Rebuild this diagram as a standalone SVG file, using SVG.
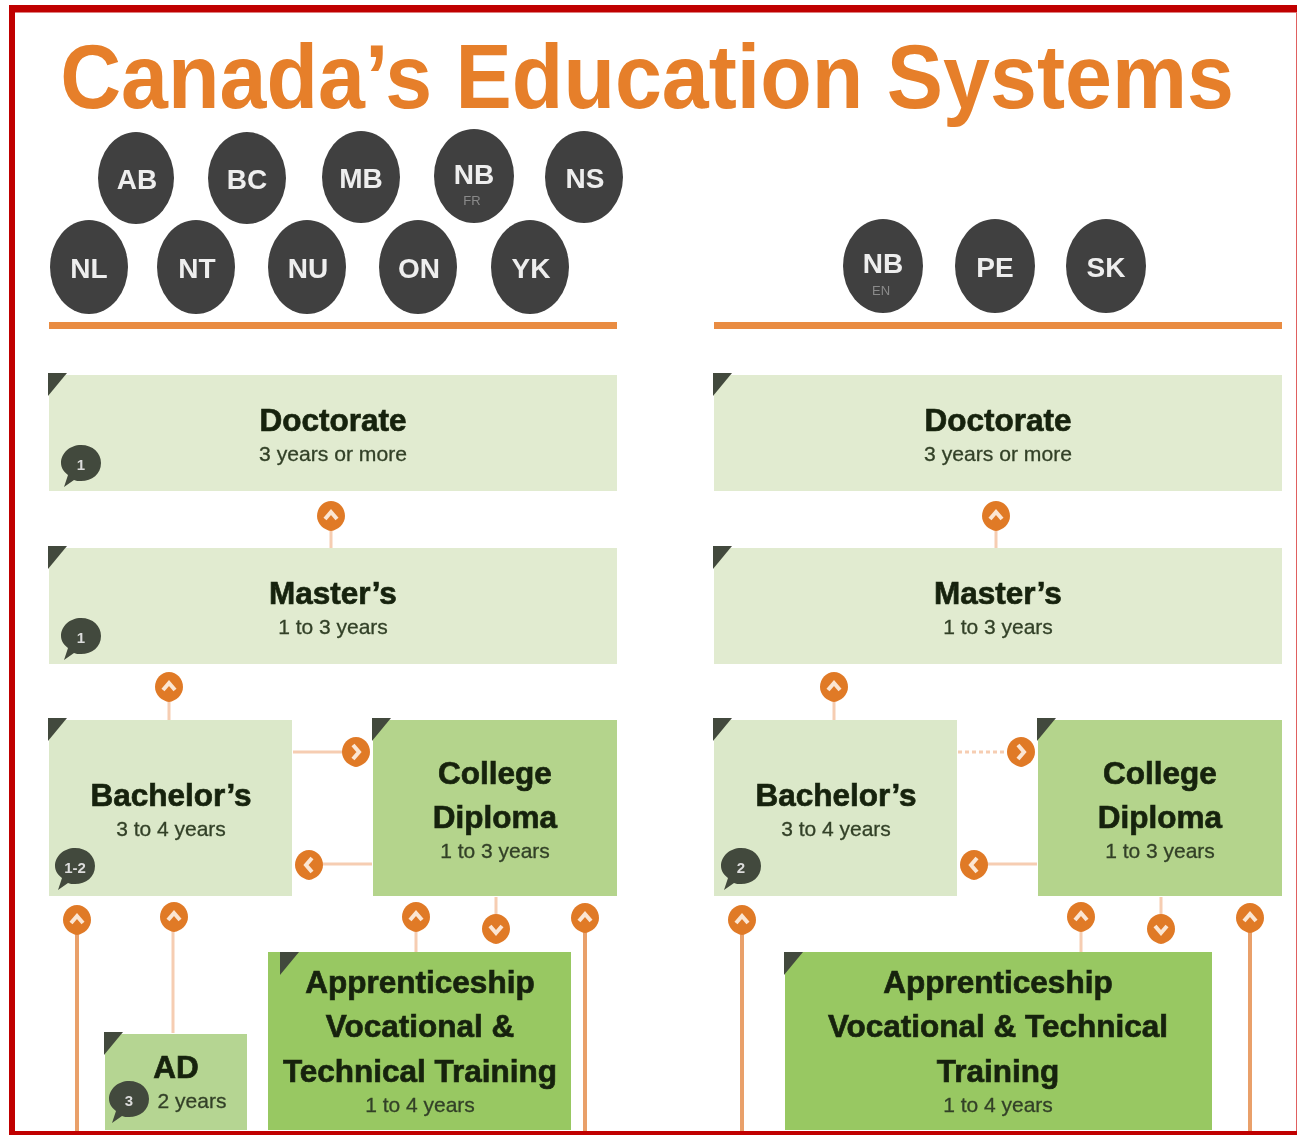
<svg xmlns="http://www.w3.org/2000/svg" width="1297" height="1135" viewBox="0 0 1297 1135">
<style>
text{font-family:"Liberation Sans",Arial,sans-serif;text-anchor:middle}
.title{font-size:90px;font-weight:bold;fill:#e67f2a}
.prov ellipse{fill:#404040}
.pt{font-size:28px;font-weight:bold;fill:#eeeeee}
.ps{font-size:13px;fill:#8a8a8a}
.h{font-size:31.500px;font-weight:bold;fill:#18240f;stroke:#18240f;stroke-width:.7px}
.s{font-size:21px;fill:#334128;stroke:#334128;stroke-width:.3px}
.rule{fill:#e98c43}
.g1{fill:#e1ebd0}.g2{fill:#dbe8c9}.g3{fill:#b4d48c}.g4{fill:#98c862}.g5{fill:#b5d592}
.c{fill:#434a3c}
.bt{font-size:15px;font-weight:bold;fill:#dcdcdc}
.l1{stroke:#e9a06a;stroke-width:4;fill:none}
.l2{stroke:#f6cdb2;stroke-width:3;fill:none}
.l3{stroke:#f6cdb2;stroke-width:3;fill:none;stroke-dasharray:4 3}
.pin{fill:#e07a28}
.ch{fill:none;stroke:#fbe6d3;stroke-width:4}
</style>
<defs>
<filter id="soft" x="-2%" y="-2%" width="104%" height="104%"><feGaussianBlur stdDeviation="0.75"/></filter>
<path id="corner" class="c" d="M-1 -2H18L-1 21Z"/>
<path id="bubble" d="M0 -19C12 -19 20 -11 20 -1C20 10 11 17 0 17C-3 17 -5 17 -7 16L-17 23L-13 11C-17 8 -20 4 -20 -1C-20 -11 -11 -19 0 -19Z" fill="#434a3c"/>
<g id="up"><path class="pin" d="M0 -15C8 -15 14 -8 14 0C14 8 7 14 0 15C-7 14 -14 8 -14 0C-14 -8 -8 -15 0 -15Z"/><path class="ch" d="M-6 3L0 -4L6 3"/></g>
<g id="down"><path class="pin" d="M0 -15C8 -15 14 -8 14 0C14 8 7 14 0 15C-7 14 -14 8 -14 0C-14 -8 -8 -15 0 -15Z"/><path class="ch" d="M-6 -3L0 4L6 -3"/></g>
<g id="right"><path class="pin" d="M0 -15C8 -15 14 -8 14 0C14 8 7 14 0 15C-7 14 -14 8 -14 0C-14 -8 -8 -15 0 -15Z"/><path class="ch" d="M-3 -7L3 0L-3 7"/></g>
<g id="left"><path class="pin" d="M0 -15C8 -15 14 -8 14 0C14 8 7 14 0 15C-7 14 -14 8 -14 0C-14 -8 -8 -15 0 -15Z"/><path class="ch" d="M3 -7L-3 0L3 7"/></g>
</defs>
<rect width="1297" height="1135" fill="#fff"/>
<g filter="url(#soft)">
<text class="title" transform="translate(647 108) scale(.9375 1)">Canada’s Education Systems</text>
<g id="connectors">
<path class="l2" d="M331 528V548M169 699V720M996 528V548M834 699V720"/>
<path class="l2" d="M293 752H345M318 864H372M173 930V1033M416 930V952M496 897V916M983 864H1037M1081 930V952M1161 897V916"/>
<path class="l3" d="M958 752H1010"/>
<path class="l1" d="M77 932V1132M585 930V1132M742 932V1132M1250 930V1132"/>
</g>
<g id="provinces" class="prov">
<g id="AB"><ellipse cx="136" cy="178" rx="38" ry="46"/><text class="pt" x="137" y="189">AB</text></g>
<g id="BC"><ellipse cx="247" cy="178" rx="39" ry="46"/><text class="pt" x="247" y="189">BC</text></g>
<g id="MB"><ellipse cx="361" cy="177" rx="39" ry="46"/><text class="pt" x="361" y="188">MB</text></g>
<g id="NB-FR"><ellipse cx="474" cy="176" rx="40" ry="47"/><text class="pt" x="474" y="184">NB</text><text class="ps" x="472" y="205">FR</text></g>
<g id="NS"><ellipse cx="584" cy="177" rx="39" ry="46"/><text class="pt" x="585" y="188">NS</text></g>
<g id="NL"><ellipse cx="89" cy="267" rx="39" ry="47"/><text class="pt" x="89" y="278">NL</text></g>
<g id="NT"><ellipse cx="196" cy="267" rx="39" ry="47"/><text class="pt" x="197" y="278">NT</text></g>
<g id="NU"><ellipse cx="307" cy="267" rx="39" ry="47"/><text class="pt" x="308" y="278">NU</text></g>
<g id="ON"><ellipse cx="418" cy="267" rx="39" ry="47"/><text class="pt" x="419" y="278">ON</text></g>
<g id="YK"><ellipse cx="530" cy="267" rx="39" ry="47"/><text class="pt" x="531" y="278">YK</text></g>
<g id="NB-EN"><ellipse cx="883" cy="266" rx="40" ry="47"/><text class="pt" x="883" y="273">NB</text><text class="ps" x="881" y="295">EN</text></g>
<g id="PE"><ellipse cx="995" cy="266" rx="40" ry="47"/><text class="pt" x="995" y="277">PE</text></g>
<g id="SK"><ellipse cx="1106" cy="266" rx="40" ry="47"/><text class="pt" x="1106" y="277">SK</text></g>
</g>
<rect id="rule-left" class="rule" x="49" y="322" width="568" height="7"/>
<rect id="rule-right" class="rule" x="714" y="322" width="568" height="7"/>

<g id="doctorate-left"><rect class="g1" x="49" y="375" width="568" height="116"/><use href="#corner" x="49" y="375"/><use href="#bubble" x="81" y="464"/><text class="bt" x="81" y="470">1</text><text class="h" x="333" y="431">Doctorate</text><text class="s" x="333" y="461" textLength="148" lengthAdjust="spacingAndGlyphs">3 years or more</text></g>
<g id="masters-left"><rect class="g1" x="49" y="548" width="568" height="116"/><use href="#corner" x="49" y="548"/><use href="#bubble" x="81" y="637"/><text class="bt" x="81" y="643">1</text><text class="h" x="333" y="604">Master’s</text><text class="s" x="333" y="634">1 to 3 years</text></g>
<g id="bachelors-left"><rect class="g2" x="49" y="720" width="243" height="176"/><use href="#corner" x="49" y="720"/><use href="#bubble" x="75" y="867"/><text class="bt" x="75" y="873">1-2</text><text class="h" x="171" y="806">Bachelor’s</text><text class="s" x="171" y="836">3 to 4 years</text></g>
<g id="college-left"><rect class="g3" x="373" y="720" width="244" height="176"/><use href="#corner" x="373" y="720"/><text class="h" x="495" y="784">College</text><text class="h" x="495" y="828">Diploma</text><text class="s" x="495" y="858">1 to 3 years</text></g>
<g id="ad-left"><rect class="g5" x="105" y="1034" width="142" height="96"/><use href="#corner" x="105" y="1034"/><use href="#bubble" x="129" y="1100"/><text class="bt" x="129" y="1106">3</text><text class="h" x="176" y="1078">AD</text><text class="s" x="192" y="1108">2 years</text></g>
<g id="apprenticeship-left"><rect class="g4" x="268" y="952" width="303" height="178"/><use href="#corner" x="281" y="954"/><text class="h" x="420" y="993">Apprenticeship</text><text class="h" x="420" y="1037">Vocational &amp;</text><text class="h" x="420" y="1082">Technical Training</text><text class="s" x="420" y="1112">1 to 4 years</text></g>

<g id="doctorate-right"><rect class="g1" x="714" y="375" width="568" height="116"/><use href="#corner" x="714" y="375"/><text class="h" x="998" y="431">Doctorate</text><text class="s" x="998" y="461" textLength="148" lengthAdjust="spacingAndGlyphs">3 years or more</text></g>
<g id="masters-right"><rect class="g1" x="714" y="548" width="568" height="116"/><use href="#corner" x="714" y="548"/><text class="h" x="998" y="604">Master’s</text><text class="s" x="998" y="634">1 to 3 years</text></g>
<g id="bachelors-right"><rect class="g2" x="714" y="720" width="243" height="176"/><use href="#corner" x="714" y="720"/><use href="#bubble" x="741" y="867"/><text class="bt" x="741" y="873">2</text><text class="h" x="836" y="806">Bachelor’s</text><text class="s" x="836" y="836">3 to 4 years</text></g>
<g id="college-right"><rect class="g3" x="1038" y="720" width="244" height="176"/><use href="#corner" x="1038" y="720"/><text class="h" x="1160" y="784">College</text><text class="h" x="1160" y="828">Diploma</text><text class="s" x="1160" y="858">1 to 3 years</text></g>
<g id="apprenticeship-right"><rect class="g4" x="785" y="952" width="427" height="178"/><use href="#corner" x="785" y="954"/><text class="h" x="998" y="993">Apprenticeship</text><text class="h" x="998" y="1037">Vocational &amp; Technical</text><text class="h" x="998" y="1082">Training</text><text class="s" x="998" y="1112">1 to 4 years</text></g>

<g id="arrowheads">
<use href="#up" x="331" y="516"/><use href="#up" x="169" y="687"/><use href="#right" x="356" y="752"/><use href="#left" x="309" y="865"/>
<use href="#up" x="77" y="920"/><use href="#up" x="174" y="917"/><use href="#up" x="416" y="917"/><use href="#down" x="496" y="929"/><use href="#up" x="585" y="918"/>
<use href="#up" x="996" y="516"/><use href="#up" x="834" y="687"/><use href="#right" x="1021" y="752"/><use href="#left" x="974" y="865"/>
<use href="#up" x="742" y="920"/><use href="#up" x="1081" y="917"/><use href="#down" x="1161" y="929"/><use href="#up" x="1250" y="918"/>
</g>
</g>
<path id="frame" d="M9 5H1297V12.500H15V1131H1297V1135H9Z" fill="#c00000"/>
<path id="frame-right" d="M1296.500 12.500V1131" stroke="#e06060" stroke-width="1" fill="none"/>
</svg>
